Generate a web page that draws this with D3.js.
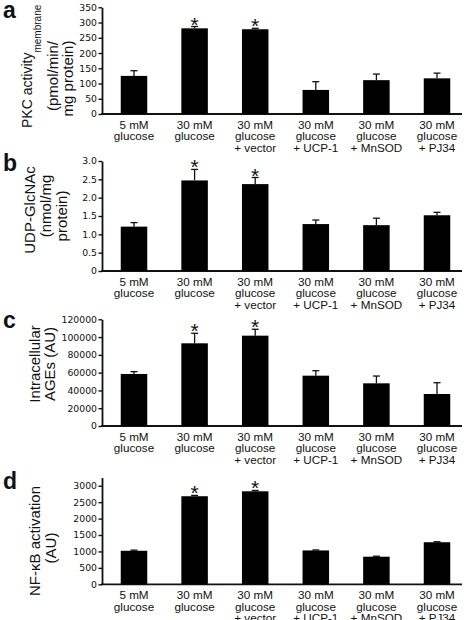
<!DOCTYPE html>
<html>
<head>
<meta charset="utf-8">
<script src="https://cdn.jsdelivr.net/npm/d3@7"></script>
<style>
  body { margin: 0; background: #fff; }
  svg { display: block; }
</style>
</head>
<body>
<svg id="fig"></svg>
<script>
const width = 464, height = 620;

// Categories (multi-line x labels)
const categories = [
    ["5 mM", "glucose"],
    ["30 mM", "glucose"],
    ["30 mM", "glucose", "+ vector"],
    ["30 mM", "glucose", "+ UCP-1"],
    ["30 mM", "glucose", "+ MnSOD"],
    ["30 mM", "glucose", "+ PJ34"]
];
const significant = [false, true, true, false, false, false];

// Panel a: PKC activity (pmol/min/mg protein)
const pkcMean = [125, 281, 278, 79, 111, 117];
const pkcErr = [17, 6, 3, 27, 20, 17];
const pkcTicks = [0, 50, 100, 150, 200, 250, 300, 350];

// Panel b: UDP-GlcNAc (nmol/mg protein)
const glcMean = [1.21, 2.47, 2.37, 1.28, 1.25, 1.52];
const glcErr = [0.11, 0.30, 0.18, 0.11, 0.19, 0.08];
const glcTicks = [0, 0.5, 1.0, 1.5, 2.0, 2.5, 3.0];

// Panel c: intracellular AGEs (AU)
const agesMean = [58500, 93000, 101600, 56600, 48000, 36000];
const agesErr = [2600, 11300, 7200, 5600, 8200, 12700];
const agesTicks = [0, 20000, 40000, 60000, 80000, 100000, 120000];

// Panel d: NF-kB activation (AU)
const nfkbMean = [1020, 2680, 2830, 1030, 840, 1280];
const nfkbErr = [20, 25, 25, 15, 15, 15];
const nfkbTicks = [0, 500, 1000, 1500, 2000, 2500, 3000];

const panels = [
    { letter: "a", letterY: 18, mean: pkcMean, err: pkcErr, ticks: pkcTicks, max: 350,
      y0: 114, y1: 7.3, fmt: d => String(d),
      title: [
          { text: "PKC activity", sub: "membrane", x: 32, y: 128, anchor: "start", size: 14 },
          { text: "(pmol/min/", x: 58, y: 76 },
          { text: "mg protein)", x: 73, y: 78.5 }
      ] },
    { letter: "b", letterY: 171, mean: glcMean, err: glcErr, ticks: glcTicks, max: 3,
      y0: 271, y1: 161, fmt: d => d === 0 ? "0" : d.toFixed(1),
      title: [
          { text: "UDP-GlcNAc", x: 35, y: 210 },
          { text: "(nmol/mg", x: 51, y: 206 },
          { text: "protein)", x: 67, y: 216 }
      ] },
    { letter: "c", letterY: 328, mean: agesMean, err: agesErr, ticks: agesTicks, max: 120000,
      y0: 426, y1: 319.3, fmt: d => String(d),
      title: [
          { text: "Intracellular", x: 40, y: 364 },
          { text: "AGEs (AU)", x: 55, y: 364 }
      ] },
    { letter: "d", letterY: 489, mean: nfkbMean, err: nfkbErr, ticks: nfkbTicks, max: 3250,
      y0: 584.3, y1: 477.5, fmt: d => String(d),
      title: [
          { text: "NF-\u03BAB activation", x: 40, y: 541 },
          { text: "(AU)", x: 56, y: 548 }
      ] }
];

const axisX = 102, axisRight = 462;
const barWidth = 26.5, capWidth = 7;

const svg = d3.select("#fig")
    .attr("width", width)
    .attr("height", height)
    .attr("viewBox", [0, 0, width, height])
    .style("font-family", "'Liberation Sans', Arial, sans-serif");

// bar centres shared by all panels
const xScale = d3.scalePoint()
    .domain(d3.range(categories.length))
    .range([134, 437]);

panels.forEach(p => {
    const yScale = d3.scaleLinear().domain([0, p.max]).range([p.y0, p.y1]);
    const g = svg.append("g");

    // panel letter
    g.append("text")
        .attr("x", 3)
        .attr("y", p.letterY)
        .attr("font-size", 23)
        .attr("font-weight", "bold")
        .attr("fill", "#111")
        .text(p.letter);

    // y axis title, rotated
    p.title.forEach(t => {
        const txt = g.append("text")
            .attr("transform", `translate(${t.x},${t.y}) rotate(-90)`)
            .attr("text-anchor", t.anchor || "middle")
            .attr("font-size", t.size || 15)
            .attr("fill", "#111")
            .text(t.text);
        if (t.sub) {
            txt.append("tspan")
                .attr("font-size", 10)
                .attr("dy", 9)
                .text(t.sub);
        }
    });

    // y axis
    const yAxis = g.append("g")
        .attr("transform", `translate(${axisX},0)`)
        .call(d3.axisLeft(yScale)
            .tickValues(p.ticks)
            .tickFormat(p.fmt)
            .tickSize(3.5)
            .tickSizeOuter(0)
            .tickPadding(1.5));
    yAxis.select(".domain").attr("stroke", "#111").attr("stroke-width", 1.8);
    yAxis.selectAll(".tick line").attr("stroke", "#111").attr("stroke-width", 1.4);
    yAxis.selectAll(".tick text")
        .attr("font-family", "'DejaVu Sans', sans-serif")
        .attr("font-size", 9.3)
        .attr("fill", "#111");

    // baseline
    g.append("line")
        .attr("x1", axisX - 0.9)
        .attr("x2", axisRight)
        .attr("y1", yScale(0))
        .attr("y2", yScale(0))
        .attr("stroke", "#111")
        .attr("stroke-width", 1.8);

    const idx = d3.range(categories.length);

    // error bars
    const eb = g.append("g").attr("stroke", "#111").attr("stroke-width", 1.3);
    eb.selectAll("line.stem")
        .data(idx)
        .join("line")
        .attr("class", "stem")
        .attr("x1", i => xScale(i))
        .attr("x2", i => xScale(i))
        .attr("y1", i => yScale(p.mean[i]))
        .attr("y2", i => yScale(p.mean[i] + p.err[i]));
    eb.selectAll("line.cap")
        .data(idx)
        .join("line")
        .attr("class", "cap")
        .attr("x1", i => xScale(i) - capWidth / 2)
        .attr("x2", i => xScale(i) + capWidth / 2)
        .attr("y1", i => yScale(p.mean[i] + p.err[i]))
        .attr("y2", i => yScale(p.mean[i] + p.err[i]));

    // bars
    g.selectAll("rect.bar")
        .data(idx)
        .join("rect")
        .attr("class", "bar")
        .attr("x", i => xScale(i) - barWidth / 2)
        .attr("width", barWidth)
        .attr("y", i => yScale(p.mean[i]))
        .attr("height", i => yScale(0) - yScale(p.mean[i]))
        .attr("fill", "#000");

    // significance asterisks
    g.selectAll("text.star")
        .data(idx.filter(i => significant[i]))
        .join("text")
        .attr("class", "star")
        .attr("x", i => xScale(i))
        .attr("y", i => yScale(p.mean[i] + p.err[i]) + 5)
        .attr("text-anchor", "middle")
        .attr("font-size", 21)
        .attr("fill", "#111")
        .text("*");

    // category labels
    const lab = g.selectAll("text.cat")
        .data(idx)
        .join("text")
        .attr("class", "cat")
        .attr("text-anchor", "middle")
        .attr("font-size", 11.7)
        .attr("fill", "#111")
        .attr("transform", i => `translate(${xScale(i)},${yScale(0) + 14.5})`);
    lab.selectAll("tspan")
        .data(i => categories[i])
        .join("tspan")
        .attr("x", 0)
        .attr("y", (d, k) => k * 11.8)
        .text(d => d);
});
</script>
</body>
</html>
